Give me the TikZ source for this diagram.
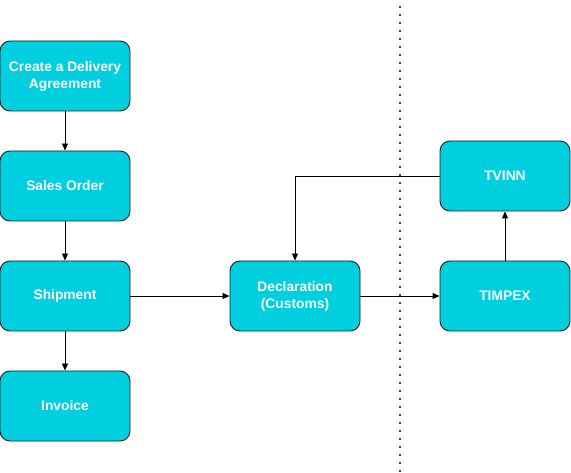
\documentclass[tikz,border=0pt]{standalone}
\usepackage{fontspec}
\setmainfont{Liberation Sans}
\usetikzlibrary{arrows.meta}
\definecolor{boxcyan}{RGB}{0,207,224}
\definecolor{boxedge}{RGB}{30,30,30}
\tikzset{
  px/.style={x=1pt,y=-1pt},
  procbox/.style={draw=boxedge, line width=0.9pt, fill=boxcyan, rounded corners=10pt,
    minimum width=130pt, minimum height=70pt, align=center, text=white,
    font=\fontsize{13.8}{17}\selectfont\bfseries, inner sep=2pt},
  conn/.style={draw=black, line width=0.9pt, -{Triangle[length=7pt,width=6pt]}},
  sep/.style={draw=black!75, line width=1.6pt, dash pattern=on 1.6pt off 6.4pt}
}
\begin{document}
\begin{tikzpicture}[px]
\useasboundingbox (0,0) rectangle (571,473);
\coordinate (septop) at (400,6);
\coordinate (sepbot) at (400,473);
\draw[sep] (septop) -- (sepbot);
\node[procbox] (cda) at (65,76) {Create a Delivery\\Agreement};
\node[procbox] (so) at (65,186) {Sales Order};
\node[procbox] (sh) at (65,296) {Shipment};
\node[procbox] (inv) at (65,406) {Invoice};
\node[procbox] (dec) at (295,296) {Declaration\\(Customs)};
\node[procbox] (tim) at (505,296) {TIMPEX};
\node[procbox] (tv) at (505,176) {TVINN};
\draw[conn] (cda) -- (so);
\draw[conn] (so) -- (sh);
\draw[conn] (sh) -- (inv);
\draw[conn] (sh) -- (dec);
\draw[conn] (dec) -- (tim);
\draw[conn] (tim) -- (tv);
\draw[conn] (tv.west) -| (dec.north);
\end{tikzpicture}
\end{document}
